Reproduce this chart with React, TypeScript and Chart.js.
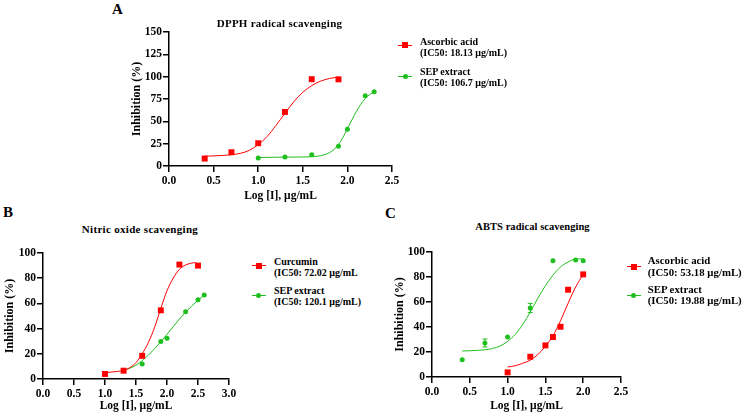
import React, { useEffect, useRef } from "react";
import { Chart, registerables } from "chart.js";
Chart.register(...registerables);

const RED = "#ff0000";
const GREEN = "#1fbf1f";
const FONT = '"Liberation Serif", "Times New Roman", serif';

// ---------- Panel A: DPPH ----------
const aRedX = [0.4, 0.7, 1.0, 1.3, 1.6, 1.9];
const aRedY = [8.3, 15.4, 25.5, 60.5, 97.2, 97];
const aRedFitX = [0.4, 0.5, 0.6, 0.7, 0.8, 0.9, 1.0, 1.1, 1.2, 1.3, 1.4, 1.5, 1.6, 1.7, 1.8, 1.9];
const aRedFitY = [11, 11.3, 11.8, 12.6, 14.2, 17.5, 24, 33, 45.5, 59, 72, 82.5, 90, 95, 98, 99.5];
const aGreenX = [1.0, 1.3, 1.6, 1.9, 2.0, 2.2, 2.3];
const aGreenY = [9, 10.1, 12.5, 22, 41, 78.7, 83.2];
const aGreenFitX = [1.0, 1.1, 1.2, 1.3, 1.4, 1.5, 1.6, 1.7, 1.8, 1.85, 1.9, 1.95, 2.0, 2.05, 2.1, 2.15, 2.2, 2.25, 2.3];
const aGreenFitY = [9.5, 9.7, 9.8, 9.9, 10, 10.1, 10.4, 11.5, 15, 18.5, 24, 32, 41.5, 51.5, 61, 69, 75.5, 80, 83];

// ---------- Panel B: Nitric oxide ----------
const bRedX = [1.0, 1.3, 1.6, 1.9, 2.2, 2.5];
const bRedY = [4, 6.6, 18.4, 54.5, 90.8, 90];
const bRedFitX = [1.0, 1.1, 1.2, 1.3, 1.4, 1.5, 1.6, 1.7, 1.8, 1.9, 2.0, 2.1, 2.2, 2.3, 2.4, 2.45, 2.5];
const bRedFitY = [5, 5.5, 6, 6.8, 9, 13, 20, 29, 41, 56, 70, 80, 87, 90.5, 92, 92.3, 91.5];
const bGreenX = [1.3, 1.6, 1.9, 2.0, 2.3, 2.5, 2.6];
const bGreenY = [6.8, 12, 29.7, 32.4, 53.4, 62.9, 66.6];
const bGreenFitX = [1.3, 1.4, 1.5, 1.6, 1.7, 1.8, 1.9, 2.0, 2.1, 2.2, 2.3, 2.4, 2.5, 2.6];
const bGreenFitY = [7, 8.5, 11, 14.5, 19, 24, 29.5, 35.5, 41.5, 47.5, 53, 58, 62.5, 66.5];

// ---------- Panel C: ABTS ----------
const cRedX = [1.0, 1.3, 1.5, 1.6, 1.7, 1.8, 2.0];
const cRedY = [3.7, 16.2, 25.3, 32, 40.2, 69.8, 82.1];
const cRedFitX = [1.0, 1.1, 1.2, 1.3, 1.4, 1.5, 1.6, 1.7, 1.8, 1.9, 2.0];
const cRedFitY = [8, 9, 11, 13.5, 18, 24.5, 33, 45, 59, 72, 82];
const cGreenX = [0.4, 0.7, 1.0, 1.3, 1.6, 1.9, 2.0];
const cGreenY = [13.8, 27.2, 32, 55.2, 93, 93.6, 93];
const cGreenErr = [0, 3.2, 0, 3.7, 0, 0, 0];
const cGreenFitX = [0.4, 0.5, 0.6, 0.7, 0.8, 0.9, 1.0, 1.1, 1.2, 1.3, 1.4, 1.5, 1.6, 1.7, 1.8, 1.9, 2.0];
const cGreenFitY = [20.8, 21, 21.3, 21.8, 22.8, 24.8, 28.5, 34, 42, 52, 63, 73, 81.5, 88, 92, 94.3, 94.5];

// ---------- text ----------
const xTitle = "Log [I], μg/mL";
const yTitle = "Inhibition (%)";
const aTitle = "DPPH radical scavenging";
const bTitle = "Nitric oxide scavenging";
const cTitle = "ABTS radical scavenging";
const aLegend = [
  ["Ascorbic acid", "(IC50: 18.13 μg/mL)"],
  ["SEP extract", "(IC50: 106.7 μg/mL)"],
];
const bLegend = [
  ["Curcumin", "(IC50: 72.02 μg/mL"],
  ["SEP extract", "(IC50: 120.1 μg/mL)"],
];
const cLegend = [
  ["Ascorbic acid", "(IC50: 53.18 μg/mL)"],
  ["SEP extract", "(IC50: 19.88 μg/mL)"],
];

function pts(xs: number[], ys: number[]) {
  return xs.map((x, i) => ({ x, y: ys[i] }));
}

const errorBarPlugin = {
  id: "errorBars",
  afterDatasetsDraw(chart: any) {
    const { ctx } = chart;
    const xs = chart.scales.x;
    const ys = chart.scales.y;
    chart.data.datasets.forEach((ds: any) => {
      const errs: number[] | undefined = ds.errorBars;
      if (!errs) return;
      ctx.save();
      ctx.strokeStyle = ds.backgroundColor;
      ctx.lineWidth = 1;
      ds.data.forEach((p: any, j: number) => {
        const e = errs[j];
        if (!e) return;
        const px = xs.getPixelForValue(p.x);
        const t = ys.getPixelForValue(p.y + e);
        const b = ys.getPixelForValue(p.y - e);
        ctx.beginPath();
        ctx.moveTo(px, t);
        ctx.lineTo(px, b);
        ctx.moveTo(px - 2.5, t);
        ctx.lineTo(px + 2.5, t);
        ctx.moveTo(px - 2.5, b);
        ctx.lineTo(px + 2.5, b);
        ctx.stroke();
      });
      ctx.restore();
    });
  },
};

type SeriesSpec = {
  x: number[];
  y: number[];
  fx: number[];
  fy: number[];
  color: string;
  style: string;
  radius: number;
  err?: number[];
};

type PanelSpec = {
  left: number;
  top: number;
  width: number;
  height: number;
  yW: number;
  xH: number;
  xMax: number;
  xStep: number;
  yMax: number;
  yStep: number;
  series: SeriesSpec[];
};

function makeConfig(p: PanelSpec): any {
  const tickFont = { family: FONT, size: 11.5, weight: "bold" as const };
  return {
    type: "scatter",
    data: {
      datasets: [
        ...p.series.map((s) => ({
          data: pts(s.x, s.y),
          showLine: false,
          pointStyle: s.style,
          pointRadius: s.radius,
          backgroundColor: s.color,
          borderColor: s.color,
          borderWidth: 0,
          errorBars: s.err,
          order: 1,
        })),
        ...p.series.map((s) => ({
          data: pts(s.fx, s.fy),
          showLine: true,
          borderColor: s.color,
          backgroundColor: s.color,
          borderWidth: 1,
          pointRadius: 0,
          cubicInterpolationMode: "monotone",
          order: 2,
        })),
      ],
    },
    options: {
      animation: false,
      responsive: false,
      devicePixelRatio: 1,
      layout: { padding: { left: 0, top: 8, right: 12, bottom: 0 } },
      plugins: {
        legend: { display: false },
        tooltip: { enabled: false },
        title: { display: false },
      },
      scales: {
        x: {
          type: "linear",
          min: 0,
          max: p.xMax,
          ticks: {
            stepSize: p.xStep,
            callback: (v: any) => Number(v).toFixed(1),
            font: tickFont,
            color: "#000",
            padding: 2,
            maxRotation: 0,
            autoSkip: false,
          },
          grid: { drawOnChartArea: false, color: "#000", lineWidth: 1.5, tickLength: 6 },
          border: { color: "#000", width: 1.5 },
          title: {
            display: true,
            text: xTitle,
            font: { family: FONT, size: 11.5, weight: "bold" },
            color: "#000",
            padding: 0,
          },
          afterFit: (s: any) => {
            s.height = p.xH;
          },
        },
        y: {
          type: "linear",
          min: 0,
          max: p.yMax,
          ticks: {
            stepSize: p.yStep,
            font: tickFont,
            color: "#000",
            padding: 1,
            autoSkip: false,
          },
          grid: { drawOnChartArea: false, color: "#000", lineWidth: 1.5, tickLength: 6 },
          border: { color: "#000", width: 1.5 },
          title: {
            display: true,
            text: yTitle,
            font: { family: FONT, size: 12, weight: "bold" },
            color: "#000",
            padding: 0,
          },
          afterFit: (s: any) => {
            s.width = p.yW;
          },
        },
      },
    },
    plugins: [errorBarPlugin],
  };
}

function ChartPanel({ spec }: { spec: PanelSpec }) {
  const ref = useRef<HTMLCanvasElement | null>(null);
  useEffect(() => {
    if (!ref.current) return;
    const chart = new Chart(ref.current, makeConfig(spec));
    return () => chart.destroy();
  }, [spec]);
  return (
    <canvas
      ref={ref}
      width={spec.width}
      height={spec.height}
      style={{
        position: "absolute",
        left: spec.left,
        top: spec.top,
        width: spec.width,
        height: spec.height,
      }}
    />
  );
}

const panelA: PanelSpec = {
  left: 130, top: 24, width: 274, height: 179, yW: 39, xH: 37,
  xMax: 2.5, xStep: 0.5, yMax: 150, yStep: 25,
  series: [
    { x: aRedX, y: aRedY, fx: aRedFitX, fy: aRedFitY, color: RED, style: "rect", radius: 4.2 },
    { x: aGreenX, y: aGreenY, fx: aGreenFitX, fy: aGreenFitY, color: GREEN, style: "circle", radius: 2.5 },
  ],
};
const panelB: PanelSpec = {
  left: 3, top: 245, width: 238, height: 168, yW: 40, xH: 34,
  xMax: 3.0, xStep: 0.5, yMax: 100, yStep: 20,
  series: [
    { x: bRedX, y: bRedY, fx: bRedFitX, fy: bRedFitY, color: RED, style: "rect", radius: 4.2 },
    { x: bGreenX, y: bGreenY, fx: bGreenFitX, fy: bGreenFitY, color: GREEN, style: "circle", radius: 2.5 },
  ],
};
const panelC: PanelSpec = {
  left: 393, top: 244, width: 240, height: 169, yW: 39, xH: 36,
  xMax: 2.5, xStep: 0.5, yMax: 100, yStep: 20,
  series: [
    { x: cRedX, y: cRedY, fx: cRedFitX, fy: cRedFitY, color: RED, style: "rect", radius: 4.2 },
    { x: cGreenX, y: cGreenY, fx: cGreenFitX, fy: cGreenFitY, color: GREEN, style: "circle", radius: 2.5, err: cGreenErr },
  ],
};

const textBase: React.CSSProperties = {
  position: "absolute",
  fontFamily: FONT,
  fontWeight: "bold",
  color: "#000",
  whiteSpace: "nowrap",
};

function Title({ text, cx, cy, size, ls }: { text: string; cx: number; cy: number; size: number; ls: number }) {
  return (
    <div
      style={{
        ...textBase,
        left: cx - 100,
        width: 200,
        textAlign: "center",
        top: cy - 7,
        height: 14,
        lineHeight: "14px",
        fontSize: size,
        letterSpacing: ls,
      }}
    >
      {text}
    </div>
  );
}

function Letter({ text, x, y }: { text: string; x: number; y: number }) {
  return (
    <div style={{ ...textBase, left: x, top: y, fontSize: 15, lineHeight: "15px" }}>{text}</div>
  );
}

function LegendEntry({
  lines, color, square, lineX, lineY, textX, textTop, size, lh,
}: {
  lines: string[]; color: string; square: boolean; lineX: number; lineY: number;
  textX: number; textTop: number; size: number; lh: number;
}) {
  const m = square ? 6 : 5;
  return (
    <>
      <div style={{ position: "absolute", left: lineX, top: lineY - 0.5, width: 14, height: 1, background: color }} />
      <div
        style={{
          position: "absolute",
          left: lineX + 7 - m / 2,
          top: lineY - m / 2,
          width: m,
          height: m,
          background: color,
          borderRadius: square ? 0 : "50%",
        }}
      />
      {lines.map((t, i) => (
        <div
          key={i}
          style={{ ...textBase, left: textX, top: textTop + i * lh, fontSize: size, lineHeight: `${lh}px`, height: lh }}
        >
          {t}
        </div>
      ))}
    </>
  );
}

export default function App() {
  return (
    <div
      style={{
        position: "absolute",
        left: 0,
        top: 0,
        width: 745,
        height: 416,
        background: "#fff",
        overflow: "hidden",
      }}
    >
      <ChartPanel spec={panelA} />
      <ChartPanel spec={panelB} />
      <ChartPanel spec={panelC} />

      <Letter text="A" x={112} y={2} />
      <Letter text="B" x={3} y={205} />
      <Letter text="C" x={385} y={206} />

      <Title text={aTitle} cx={279.5} cy={23.3} size={11} ls={0.25} />
      <Title text={bTitle} cx={140} cy={229.3} size={11} ls={0.3} />
      <Title text={cTitle} cx={532.5} cy={226.7} size={10.5} ls={0.05} />

      <LegendEntry lines={aLegend[0]} color={RED} square lineX={398} lineY={45} textX={420} textTop={36.2} size={10} lh={11} />
      <LegendEntry lines={aLegend[1]} color={GREEN} square={false} lineX={398} lineY={76.7} textX={420} textTop={67.2} size={10} lh={10.5} />

      <LegendEntry lines={bLegend[0]} color={RED} square lineX={251.7} lineY={265.7} textX={274} textTop={255.5} size={10} lh={11} />
      <LegendEntry lines={bLegend[1]} color={GREEN} square={false} lineX={251.7} lineY={295} textX={274} textTop={284.5} size={10} lh={11} />

      <LegendEntry lines={cLegend[0]} color={RED} square lineX={626.7} lineY={266.7} textX={647.7} textTop={255.2} size={10.8} lh={11.7} />
      <LegendEntry lines={cLegend[1]} color={GREEN} square={false} lineX={626.7} lineY={295} textX={647.7} textTop={283.5} size={10.8} lh={11.8} />
    </div>
  );
}
